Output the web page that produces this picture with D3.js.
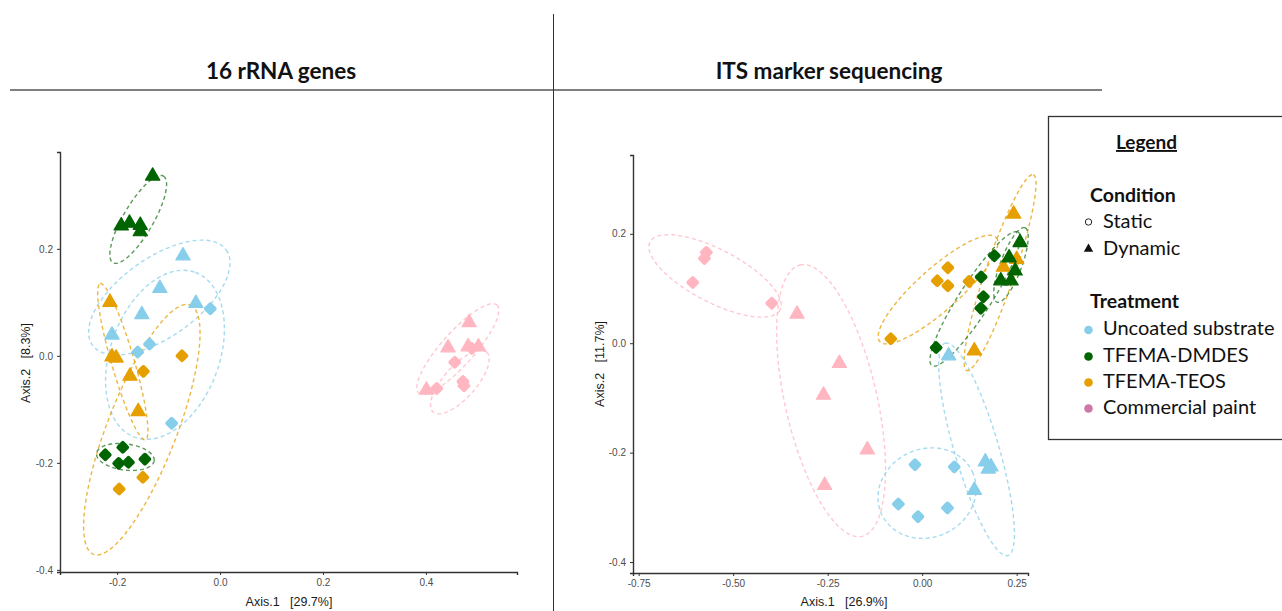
<!DOCTYPE html>
<html>
<head>
<meta charset="utf-8">
<script src="https://cdn.jsdelivr.net/npm/d3@7"></script>
<style>
  body { margin: 0; background: #fff; }
  svg { display: block; }
  .tick text { font-family: "Liberation Sans", Arial, sans-serif; font-size: 10px; fill: #4d4d4d; }
</style>
</head>
<body>
<svg id="chart" width="1282" height="611"></svg>
<script>
// categories
var treatments = ["Uncoated substrate", "TFEMA-DMDES", "TFEMA-TEOS", "Commercial paint"];
var conditions = ["Static", "Dynamic"];
var panelTitles = ["16 rRNA genes", "ITS marker sequencing"];
var xTitles = ["Axis.1   [29.7%]", "Axis.1   [26.9%]"];
var yTitles = ["Axis.2   [8.3%]", "Axis.2   [11.7%]"];

// tick labels
var rrnaXTicks = [-0.2, 0.0, 0.2, 0.4];
var rrnaYTicks = [-0.4, -0.2, 0.0, 0.2];
var itsXTicks = [-0.75, -0.50, -0.25, 0.00, 0.25];
var itsYTicks = [-0.4, -0.2, 0.0, 0.2];

// points: [treatment, condition, axis1, axis2]
var rrnaPoints = [
  [1,1,-0.131,0.338],[1,1,-0.192,0.245],[1,1,-0.176,0.250],[1,1,-0.155,0.246],[1,1,-0.155,0.234],
  [0,1,-0.072,0.189],[0,1,-0.117,0.128],[0,1,-0.047,0.100],[0,1,-0.152,0.079],[0,1,-0.210,0.041],
  [0,0,-0.019,0.088],[0,0,-0.137,0.022],[0,0,-0.160,0.007],[0,0,-0.094,-0.126],
  [2,1,-0.214,0.102],[2,1,-0.210,0.000],[2,1,-0.202,-0.002],[2,1,-0.175,-0.036],[2,1,-0.159,-0.102],
  [2,0,-0.074,0.000],[2,0,-0.149,-0.029],[2,0,-0.150,-0.227],[2,0,-0.196,-0.249],
  [1,0,-0.223,-0.185],[1,0,-0.189,-0.171],[1,0,-0.197,-0.201],[1,0,-0.178,-0.199],[1,0,-0.146,-0.193],
  [3,1,0.484,0.064],[3,1,0.443,0.017],[3,1,0.482,0.019],[3,1,0.502,0.019],[3,1,0.401,-0.062],
  [3,0,0.456,-0.012],[3,0,0.474,-0.056],[3,0,0.472,-0.048],[3,0,0.421,-0.061],[3,0,0.489,0.014]
];
var itsPoints = [
  [3,0,-0.571,0.166],[3,0,-0.576,0.155],[3,0,-0.607,0.111],[3,0,-0.398,0.073],
  [3,1,-0.331,0.055],[3,1,-0.219,-0.035],[3,1,-0.261,-0.093],[3,1,-0.145,-0.193],[3,1,-0.258,-0.258],
  [0,0,-0.019,-0.222],[0,0,0.085,-0.226],[0,0,-0.063,-0.294],[0,0,-0.011,-0.317],[0,0,0.067,-0.301],
  [0,1,0.070,-0.021],[0,1,0.138,-0.267],[0,1,0.167,-0.215],[0,1,0.182,-0.224],[0,1,0.175,-0.228],
  [2,0,0.068,0.138],[2,0,0.040,0.114],[2,0,0.068,0.105],[2,0,0.124,0.113],[2,0,-0.083,0.008],
  [1,0,0.191,0.160],[1,0,0.156,0.121],[1,0,0.162,0.085],[1,0,0.155,0.064],[1,0,0.037,-0.008],
  [2,1,0.242,0.238],[2,1,0.138,-0.012],[2,1,0.215,0.141],[2,1,0.250,0.155],
  [1,1,0.259,0.186],[1,1,0.230,0.158],[1,1,0.246,0.134],[1,1,0.208,0.116],[1,1,0.235,0.116]
];

// ellipses: [treatment, condition, centre x, centre y, major-axis end x, end y, minor/major]
var rrnaEllipses = [
  [1,1,-0.159,0.255,-0.110,0.336,0.30],
  [0,1,-0.118,0.109,0.012,0.198,0.48],
  [0,0,-0.107,0.002,-0.048,0.156,0.62],
  [2,1,-0.189,-0.011,-0.233,0.135,0.14],
  [2,0,-0.152,-0.138,-0.058,0.095,0.26],
  [1,0,-0.184,-0.189,-0.128,-0.196,0.45],
  [3,1,0.462,0.013,0.538,0.095,0.28],
  [3,0,0.466,-0.049,0.518,0.007,0.40]
];
var itsEllipses = [
  [3,0,-0.548,0.123,-0.376,0.061,0.36],
  [3,1,-0.241,-0.105,-0.323,0.143,0.33],
  [0,0,0.013,-0.274,0.133,-0.235,0.88],
  [0,1,0.144,-0.194,0.061,0.000,0.20],
  [2,0,0.042,0.098,0.196,0.193,0.27],
  [2,1,0.206,0.129,0.294,0.308,0.14],
  [1,0,0.140,0.081,0.254,0.203,0.20],
  [1,1,0.235,0.143,0.272,0.211,0.27]
];

var colors = ["#87CEEB", "#006400", "#E69F00", "#FFB6C1"];
var legendColors = ["#87CEEB", "#006400", "#E69F00", "#CC79A7"];

var svg = d3.select("#chart");

// frame lines
svg.append("line").attr("x1", 10).attr("x2", 1102).attr("y1", 90).attr("y2", 90)
  .attr("stroke", "#555").attr("stroke-width", 1.6);
svg.append("line").attr("x1", 553.5).attr("x2", 553.5).attr("y1", 14).attr("y2", 611)
  .attr("stroke", "#333").attr("stroke-width", 1);

var titleX = [281, 829];
panelTitles.forEach(function(t, i) {
  svg.append("text").attr("x", titleX[i]).attr("y", 79).attr("text-anchor", "middle")
    .attr("font-family", "Lato, 'Open Sans', sans-serif").attr("font-weight", "bold")
    .attr("font-size", 22.5).attr("fill", "#111").text(t);
});

function drawPanel(cfg) {
  var x = d3.scaleLinear().domain(cfg.xDomain).range(cfg.xRange);
  var y = d3.scaleLinear().domain(cfg.yDomain).range(cfg.yRange);
  var g = svg.append("g");

  // ellipses
  var line = d3.line().curve(d3.curveLinearClosed);
  cfg.ellipses.forEach(function(e) {
    var cx = x(e[2]), cy = y(e[3]);
    var ax = x(e[4]) - cx, ay = y(e[5]) - cy;
    var bx = -ay * e[6], by = ax * e[6];
    var pts = d3.range(120).map(function(k) {
      var t = k / 120 * 2 * Math.PI;
      return [cx + Math.cos(t) * ax + Math.sin(t) * bx, cy + Math.cos(t) * ay + Math.sin(t) * by];
    });
    g.append("path").attr("d", line(pts)).attr("fill", "none")
      .attr("stroke", colors[e[0]]).attr("stroke-opacity", e[0] == 1 ? 0.65 : 0.75)
      .attr("stroke-width", 1.4).attr("stroke-dasharray", "4,3");
  });

  // points
  var tri = d3.symbol().type(d3.symbolTriangle).size(88);
  var dia = d3.symbol().type(d3.symbolSquare).size(38);
  cfg.points.forEach(function(p) {
    var px = x(p[2]), py = y(p[3]);
    if (p[1] == 1) {
      g.append("path").attr("d", tri()).attr("transform", "translate(" + px + "," + (py + 1) + ")")
        .attr("fill", colors[p[0]]).attr("stroke", colors[p[0]]).attr("stroke-width", 1.2)
        .attr("stroke-linejoin", "round");
    } else {
      g.append("path").attr("d", dia()).attr("transform", "translate(" + px + "," + py + ") rotate(45)")
        .attr("fill", colors[p[0]]).attr("stroke", colors[p[0]]).attr("stroke-width", 4)
        .attr("stroke-linejoin", "round");
    }
  });

  // axes
  var xAxis = d3.axisBottom(x).tickValues(cfg.xTicks).tickFormat(d3.format(cfg.xFormat))
    .tickSize(3).tickPadding(4);
  var yAxis = d3.axisLeft(y).tickValues(cfg.yTicks).tickFormat(d3.format(".1f"))
    .tickSize(3).tickPadding(4);
  var gx = g.append("g").attr("transform", "translate(0," + cfg.yRange[0] + ")").call(xAxis);
  var gy = g.append("g").attr("transform", "translate(" + cfg.xRange[0] + ",0)").call(yAxis);
  [gx, gy].forEach(function(a) {
    a.select(".domain").attr("stroke", "#333").attr("stroke-width", 1.4);
    a.selectAll(".tick line").attr("stroke", "#333").attr("stroke-width", 1);
  });
  gx.selectAll(".tick text").text(function(d) { return d3.format(cfg.xFormat)(d).replace("−", "-"); });
  gy.selectAll(".tick text").text(function(d) { return d3.format(".1f")(d).replace("−", "-"); });

  g.append("text").attr("x", cfg.xTitleX).attr("y", 606).attr("text-anchor", "middle")
    .attr("font-family", "'Liberation Sans', Arial, sans-serif").attr("font-size", 12.5)
    .attr("fill", "#1a1a1a").style("white-space", "pre").text(cfg.xTitle);
  g.append("text").attr("transform", "translate(" + cfg.yTitleX + "," + cfg.yTitleY + ") rotate(-90)")
    .attr("text-anchor", "middle")
    .attr("font-family", "'Liberation Sans', Arial, sans-serif").attr("font-size", 12.5)
    .attr("fill", "#1a1a1a").style("white-space", "pre").text(cfg.yTitle);
}

drawPanel({
  points: rrnaPoints, ellipses: rrnaEllipses,
  xDomain: [-0.311, 0.577], xRange: [60, 517],
  yDomain: [-0.404, 0.381], yRange: [572, 152],
  xTicks: rrnaXTicks, yTicks: rrnaYTicks, xFormat: ".1f",
  xTitle: xTitles[0], yTitle: yTitles[0], xTitleX: 289, yTitleX: 30, yTitleY: 363
});
drawPanel({
  points: itsPoints, ellipses: itsEllipses,
  xDomain: [-0.765, 0.280], xRange: [633, 1028],
  yDomain: [-0.420, 0.344], yRange: [573, 155],
  xTicks: itsXTicks, yTicks: itsYTicks, xFormat: ".2f",
  xTitle: xTitles[1], yTitle: yTitles[1], xTitleX: 844, yTitleX: 604, yTitleY: 364
});

// legend box
var lg = svg.append("g");
lg.append("rect").attr("x", 1048.5).attr("y", 116.5).attr("width", 250).attr("height", 323)
  .attr("fill", "#fff").attr("stroke", "#333").attr("stroke-width", 1.3);
var lf = "Lato, 'Open Sans', sans-serif";
lg.append("text").attr("x", 1146.5).attr("y", 149).attr("text-anchor", "middle")
  .attr("font-family", lf).attr("font-weight", "bold").attr("font-size", 19)
  .attr("text-decoration", "underline").attr("fill", "#111").text("Legend");
lg.append("text").attr("x", 1090).attr("y", 202).attr("font-family", lf).attr("font-weight", "bold")
  .attr("font-size", 19.5).attr("fill", "#111").text("Condition");
lg.append("text").attr("x", 1090).attr("y", 308).attr("font-family", lf).attr("font-weight", "bold")
  .attr("font-size", 19.5).attr("fill", "#111").text("Treatment");

var condY = [228, 255];
conditions.forEach(function(c, i) {
  if (i == 0) {
    lg.append("circle").attr("cx", 1088.5).attr("cy", condY[i] - 6).attr("r", 3.2)
      .attr("fill", "#fff").attr("stroke", "#222").attr("stroke-width", 1);
  } else {
    lg.append("path").attr("d", d3.symbol().type(d3.symbolTriangle).size(38)())
      .attr("transform", "translate(1088.5," + (condY[i] - 6) + ")").attr("fill", "#111");
  }
  lg.append("text").attr("x", 1103).attr("y", condY[i]).attr("font-family", lf)
    .attr("font-size", 20).attr("fill", "#111").text(c);
});

var treatY = [335, 361.5, 387.5, 413.5];
treatments.forEach(function(t, i) {
  lg.append("circle").attr("cx", 1088.5).attr("cy", treatY[i] - 5).attr("r", 4.3)
    .attr("fill", legendColors[i]);
  lg.append("text").attr("x", 1103).attr("y", treatY[i]).attr("font-family", lf)
    .attr("font-size", 20).attr("fill", "#111").text(t);
});
</script>
</body>
</html>
